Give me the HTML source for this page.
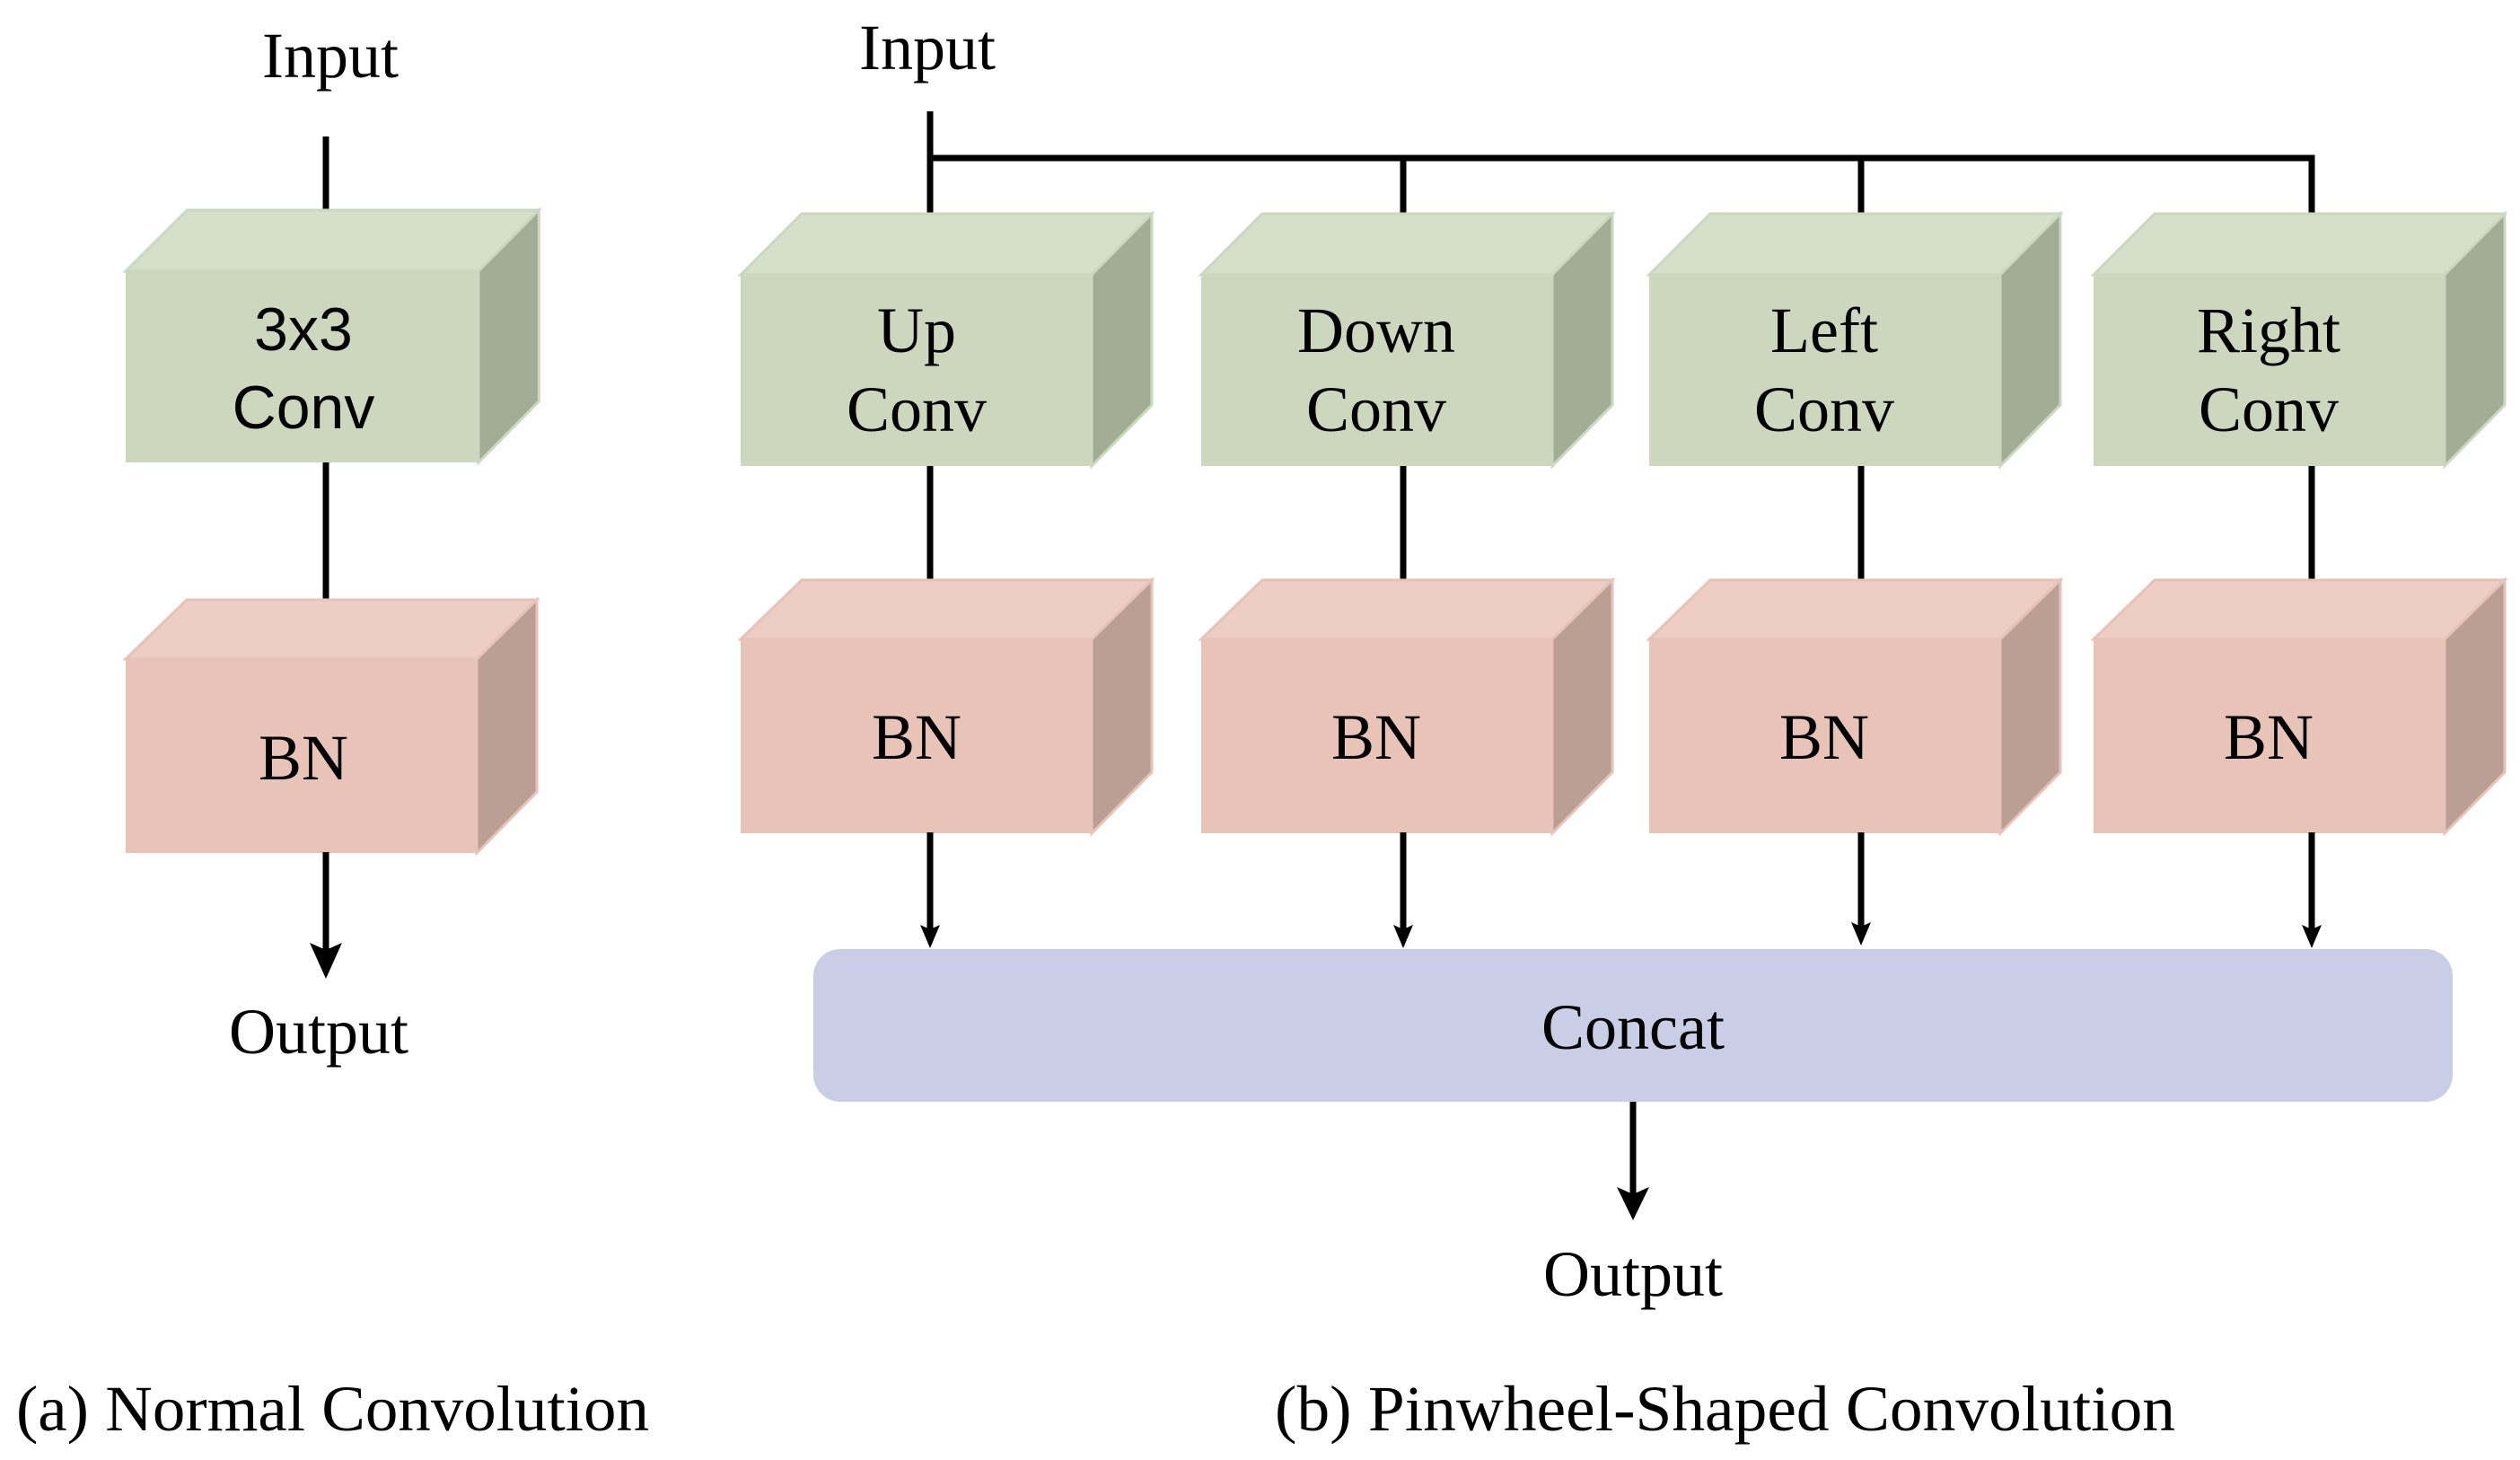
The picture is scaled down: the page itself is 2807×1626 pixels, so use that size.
<!DOCTYPE html>
<html><head><meta charset="utf-8"><style>html,body{margin:0;padding:0;background:#fff}svg{display:block}</style></head>
<body>
<svg width="2807" height="1626" viewBox="0 0 2807 1626" xmlns="http://www.w3.org/2000/svg">
<defs>
<g id="gbox">
<polygon points="0,68 68,0 458,0 391,68" fill="#d6dfca" stroke="#ccd7bf" stroke-width="3"/>
<polygon points="391,68 458,0 458,213 391,281" fill="#a3ad96" stroke="#ccd7bf" stroke-width="3"/>
<rect x="0" y="68" width="391" height="213" fill="#ccd7bd"/>
</g>
<g id="rbox">
<polygon points="0,66 68,0 458,0 391,66" fill="#edcdc4" stroke="#e7c2b7" stroke-width="3"/>
<polygon points="391,66 458,0 458,214 391,282" fill="#bc9f94" stroke="#e7c2b7" stroke-width="3"/>
<rect x="0" y="66" width="391" height="216" fill="#e8c3b7"/>
</g>
</defs>
<g font-family="'Liberation Serif', serif" font-size="72" fill="#000" text-anchor="middle">
<!-- left -->
<text x="368" y="86">Input</text>
<line x1="363" y1="152" x2="363" y2="236" stroke="#000" stroke-width="7"/>
<use href="#gbox" transform="translate(140,234) scale(1.005,1)"/>
<text x="338" y="390" font-family="'Liberation Sans', sans-serif" font-size="68">3x3</text>
<text x="338" y="477" font-family="'Liberation Sans', sans-serif" font-size="68">Conv</text>
<line x1="363" y1="515" x2="363" y2="670" stroke="#000" stroke-width="7"/>
<use href="#rbox" transform="translate(140,668)"/>
<text x="338" y="868">BN</text>
<line x1="363" y1="949" x2="363" y2="1060" stroke="#000" stroke-width="7"/>
<polygon points="345,1050 363,1058 381,1050 363,1090" fill="#000"/>
<text x="355" y="1173">Output</text>
<text x="18" y="1593" text-anchor="start" textLength="705" lengthAdjust="spacingAndGlyphs">(a) Normal Convolution</text>

<!-- right -->
<text x="1033" y="77">Input</text>
<line x1="1036" y1="124" x2="1036" y2="240" stroke="#000" stroke-width="7"/>
<polyline points="1036,176 2575,176 2575,240" fill="none" stroke="#000" stroke-width="7"/>
<line x1="1563" y1="176" x2="1563" y2="240" stroke="#000" stroke-width="7"/>
<line x1="2073" y1="176" x2="2073" y2="240" stroke="#000" stroke-width="7"/>

<use href="#gbox" transform="translate(825,238)"/>
<use href="#gbox" transform="translate(1338,238)"/>
<use href="#gbox" transform="translate(1837,238)"/>
<use href="#gbox" transform="translate(2332,238)"/>
<text x="1021" y="392">Up</text><text x="1021" y="480">Conv</text>
<text x="1533" y="392">Down</text><text x="1533" y="480">Conv</text>
<text x="2032" y="392">Left</text><text x="2032" y="480">Conv</text>
<text x="2527" y="392">Right</text><text x="2527" y="480">Conv</text>

<g stroke="#000" stroke-width="7">
<line x1="1036" y1="519" x2="1036" y2="648"/>
<line x1="1563" y1="519" x2="1563" y2="648"/>
<line x1="2073" y1="519" x2="2073" y2="648"/>
<line x1="2575" y1="519" x2="2575" y2="648"/>
</g>
<use href="#rbox" transform="translate(825,646)"/>
<use href="#rbox" transform="translate(1338,646)"/>
<use href="#rbox" transform="translate(1837,646)"/>
<use href="#rbox" transform="translate(2332,646)"/>
<text x="1021" y="845">BN</text>
<text x="1533" y="845">BN</text>
<text x="2032" y="845">BN</text>
<text x="2527" y="845">BN</text>

<g stroke="#000" stroke-width="7">
<line x1="1036" y1="927" x2="1036" y2="1035"/>
<line x1="1563" y1="927" x2="1563" y2="1035"/>
<line x1="2073" y1="927" x2="2073" y2="1035"/>
<line x1="2575" y1="927" x2="2575" y2="1035"/>
</g>
<g fill="#000">
<polygon points="1025,1030 1036,1035 1047,1030 1036,1056"/>
<polygon points="1552,1030 1563,1035 1574,1030 1563,1056"/>
<polygon points="2062,1027 2073,1032 2084,1027 2073,1053"/>
<polygon points="2564,1030 2575,1035 2586,1030 2575,1056"/>
</g>
<rect x="906" y="1057" width="1826" height="170" rx="30" ry="30" fill="#c9cde6"/>
<text x="1819" y="1168">Concat</text>
<line x1="1819" y1="1227" x2="1819" y2="1330" stroke="#000" stroke-width="7"/>
<polygon points="1801,1322 1819,1330 1837,1322 1819,1359" fill="#000"/>
<text x="1819" y="1443">Output</text>
<text x="1420" y="1593" text-anchor="start" textLength="1003" lengthAdjust="spacingAndGlyphs">(b) Pinwheel-Shaped Convolution</text>
</g>
</svg>
</body></html>
